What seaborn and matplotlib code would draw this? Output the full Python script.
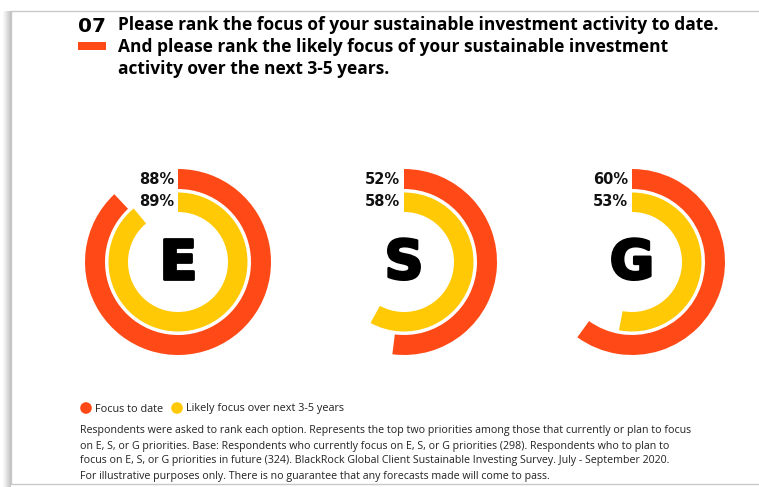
import matplotlib
matplotlib.use("Agg")
import matplotlib.pyplot as plt
import matplotlib.patheffects as pe
import seaborn as sns
import pandas as pd
from matplotlib.patches import Rectangle

# ---- data ----
categories = ["E", "S", "G"]
focus_to_date = [88, 52, 60]
likely_focus = [89, 58, 53]
series_labels = ["Focus to date", "Likely focus over next 3-5 years"]
question_no = "07"
title_lines = [
    "Please rank the focus of your sustainable investment activity to date.",
    "And please rank the likely focus of your sustainable investment",
    "activity over the next 3-5 years.",
]
footnote_lines = [
    "Respondents were asked to rank each option. Represents the top two priorities among those that currently or plan to focus",
    "on E, S, or G priorities. Base: Respondents who currently focus on E, S, or G priorities (298). Respondents who to plan to",
    "focus on E, S, or G priorities in future (324). BlackRock Global Client Sustainable Investing Survey. July - September 2020.",
    "For illustrative purposes only. There is no guarantee that any forecasts made will come to pass.",
]

sns.set_theme(style="white")
plt.rcParams["font.family"] = ["Open Sans", "DejaVu Sans"]

ORANGE = "#FF4A17"
YELLOW = "#FFC905"
palette = [ORANGE, YELLOW]

W, H = 759, 487
fig = plt.figure(figsize=(W / 100, H / 100), dpi=100)
fig.patch.set_facecolor("white")

# overlay axes in pixel coordinates
ax0 = fig.add_axes([0, 0, 1, 1])
ax0.set_xlim(0, W)
ax0.set_ylim(H, 0)
ax0.axis("off")

# frame with shadow
for i, a in enumerate([0.03, 0.05, 0.08, 0.11, 0.14, 0.17, 0.20, 0.24]):
    ax0.add_patch(Rectangle((3 + i, 11), 1, H, color="black", alpha=a, lw=0, zorder=0))
ax0.add_patch(Rectangle((11, 11), W + 20, H - 14, facecolor="white", edgecolor="#c8c8c8", lw=1.0, zorder=1))

# title
ax0.text(78, 26, question_no, fontsize=14.5, fontweight="bold", color="black", va="center", ha="left",
         family=["DejaVu Sans"], zorder=3)
ax0.add_patch(Rectangle((78, 42), 28, 8, color=ORANGE, lw=0, zorder=3))
for i, line in enumerate(title_lines):
    ax0.text(118, 25 + 22 * i, line, fontsize=12.5, fontweight="bold", color="black", va="center", ha="left", zorder=3)

# rings
centers_x = [178, 404, 632]
cy = 262
R = 93.0
for cat, f, l, cx in zip(categories, focus_to_date, likely_focus, centers_x):
    ax = fig.add_axes([(cx - R) / W, 1 - (cy + R) / H, 2 * R / W, 2 * R / H])
    ax.pie([f, 100 - f], startangle=90, counterclock=False, radius=1.0,
           colors=[ORANGE, "none"], wedgeprops=dict(width=20 / R, linewidth=0))
    ax.pie([l, 100 - l], startangle=90, counterclock=False, radius=69.5 / R,
           colors=[YELLOW, "none"], wedgeprops=dict(width=19.5 / R, linewidth=0))
    ax.set_xlim(-1, 1)
    ax.set_ylim(-1, 1)
    ax.set_aspect("equal")
    ax.axis("off")
    ax.patch.set_alpha(0)
    ax.text(0, -0.02, cat, fontsize=39, fontweight="heavy", color="black",
            ha="center", va="center", family=["DejaVu Sans"],
            path_effects=[pe.withStroke(linewidth=2, foreground="black")])
    ax0.text(cx - 4, 180, f"{f}%", fontsize=10.5, fontweight="bold", color="#111111",
             ha="right", va="center", family=["DejaVu Sans"], zorder=5)
    ax0.text(cx - 4, 201, f"{l}%", fontsize=10.5, fontweight="bold", color="#111111",
             ha="right", va="center", family=["DejaVu Sans"], zorder=5)

# legend
leg = pd.DataFrame({"x": [86, 177], "y": [408, 408], "series": series_labels})
sns.scatterplot(data=leg, x="x", y="y", hue="series", palette=palette, s=70,
                edgecolor="none", legend=False, ax=ax0, zorder=4)
ax0.set_xlim(0, W)
ax0.set_ylim(H, 0)
ax0.axis("off")
ax0.text(95, 409, series_labels[0], fontsize=7.8, color="#222222", va="center", ha="left", zorder=4)
ax0.text(186, 409, series_labels[1], fontsize=7.8, color="#222222", va="center", ha="left", zorder=4)

for i, line in enumerate(footnote_lines):
    ax0.text(80, 431 + 15 * i, line, fontsize=7.7, color="#222222", va="center", ha="left", zorder=4)

fig.savefig("out.png", dpi=100, facecolor="white")
